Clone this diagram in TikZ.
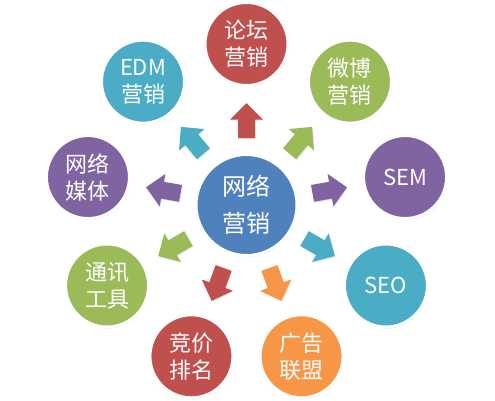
\documentclass[tikz,border=0pt]{standalone}
\usepackage{fontspec}
\newfontfamily\cjk{Noto Sans CJK SC}
\usetikzlibrary{shadows}
\definecolor{cred}{HTML}{C0504D}
\definecolor{cgreen}{HTML}{9BBB59}
\definecolor{cpurple}{HTML}{8064A2}
\definecolor{cteal}{HTML}{4BACC6}
\definecolor{corange}{HTML}{F79646}
\definecolor{cblue}{HTML}{4F81BD}
\begin{document}
\begin{tikzpicture}[x=1pt,y=1pt,
  bubble/.style={circle, draw=white, line width=3pt, minimum size=83pt, inner sep=0pt,
    text=white, font=\cjk\fontsize{22}{27}\selectfont, align=center,
    drop shadow={opacity=0.25, shadow xshift=0.8pt, shadow yshift=-1.6pt}},
  hubstyle/.style={bubble, minimum size=101pt, font=\cjk\fontsize{24}{37}\selectfont},
  barrow/.pic={\path[pic actions, drop shadow={opacity=0.2, shadow xshift=0.6pt, shadow yshift=-1pt}]
      (-17.5,-8.5) -- (0.8,-8.5) -- (0.8,-16.5) -- (17.5,0) -- (0.8,16.5) -- (0.8,8.5) -- (-17.5,8.5) -- cycle;}
]
\useasboundingbox[fill=white] (0,0) rectangle (495,400);
\coordinate (c) at (246.5,195);
\node[hubstyle, fill=cblue] (hub) at (c) {网络\\营销};

\path (c) ++(90:161)   node[bubble, fill=cred]    (n1) {论坛\\营销};
\path (c) ++(50:161)   node[bubble, fill=cgreen]  (n2) {微博\\营销};
\path (c) ++(10:161)   node[bubble, fill=cpurple] (n3) {SEM};
\path (c) ++(-30:161)  node[bubble, fill=cteal]   (n4) {SEO};
\path (c) ++(-70:161)  node[bubble, fill=corange] (n5) {广告\\联盟};
\path (c) ++(-110:161) node[bubble, fill=cred]    (n6) {竞价\\排名};
\path (c) ++(-150:161) node[bubble, fill=cgreen]  (n7) {通讯\\工具};
\path (c) ++(170:161)  node[bubble, fill=cpurple] (n8) {网络\\媒体};
\path (c) ++(130:161)  node[bubble, fill=cteal]   (n9) {EDM\\营销};

\path (c) ++(90:84.5)   pic[rotate=90,   fill=cred]    {barrow};
\path (c) ++(50:84.5)   pic[rotate=50,   fill=cgreen]  {barrow};
\path (c) ++(10:84.5)   pic[rotate=10,   fill=cpurple] {barrow};
\path (c) ++(-30:84.5)  pic[rotate=-30,  fill=cteal]   {barrow};
\path (c) ++(-70:84.5)  pic[rotate=-70,  fill=corange] {barrow};
\path (c) ++(-110:84.5) pic[rotate=-110, fill=cred]    {barrow};
\path (c) ++(-150:84.5) pic[rotate=-150, fill=cgreen]  {barrow};
\path (c) ++(170:84.5)  pic[rotate=170,  fill=cpurple] {barrow};
\path (c) ++(130:84.5)  pic[rotate=130,  fill=cteal]   {barrow};
\end{tikzpicture}
\end{document}
